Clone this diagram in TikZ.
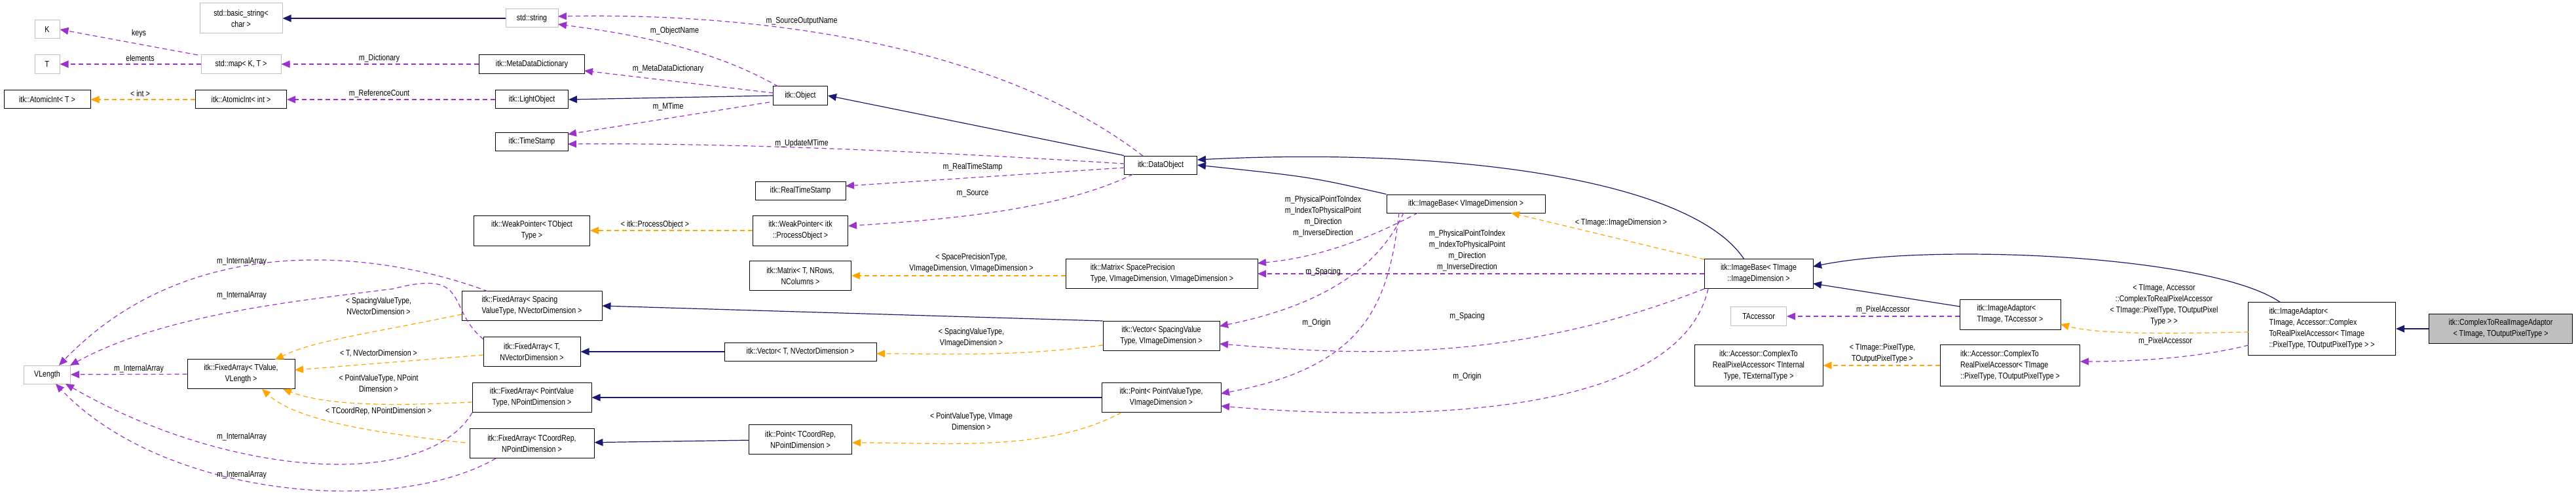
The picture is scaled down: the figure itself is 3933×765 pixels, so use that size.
\documentclass[tikz,border=0pt]{standalone}
\usepackage{fontspec}
\setmainfont{Liberation Sans}[FakeStretch=0.82]
\usetikzlibrary{arrows.meta}
\definecolor{inhcol}{HTML}{191970}
\definecolor{usecol}{HTML}{9A32CD}
\definecolor{tplcol}{HTML}{FFA500}
\definecolor{extcol}{HTML}{BFBFBF}
\begin{document}
\begin{tikzpicture}[x=1pt,y=-1pt,font=\fontsize{13}{17}\selectfont,
                    cls/.style={rectangle, draw=black, line width=1pt, inner sep=2pt, align=center},
                    ext/.style={rectangle, draw=extcol, line width=1pt, inner sep=2pt, align=center},
                    inh/.style={draw=inhcol, line width=1.2pt, -{Triangle[length=13pt,width=11pt]}},
                    use/.style={draw=usecol, line width=1.2pt, dash pattern=on 7pt off 5pt, -{Triangle[length=13pt,width=11pt]}},
                    tpl/.style={draw=tplcol, line width=1.2pt, dash pattern=on 7pt off 5pt, -{Triangle[length=13pt,width=11pt]}},
                    lbl/.style={align=center, inner sep=0pt}]
\useasboundingbox (0,0) rectangle (3933,765);
% classes
\node (K) [ext, minimum width=38, minimum height=28] at (72,45) {K};
\node (T) [ext, minimum width=38, minimum height=29] at (72,98) {T};
\node (atomT) [cls, minimum width=132, minimum height=28] at (72,152) {itk::AtomicInt< T >};
\node (bstr) [ext, minimum width=126, minimum height=46] at (368,28) {std::basic\_string<\\char >};
\node (map) [ext, minimum width=122, minimum height=29] at (368,98) {std::map< K, T >};
\node (atomI) [cls, minimum width=139, minimum height=28] at (368,152) {itk::AtomicInt< int >};
\node (str) [ext, minimum width=80, minimum height=28] at (812,28) {std::string};
\node (mdd) [cls, minimum width=161, minimum height=29] at (812,98) {itk::MetaDataDictionary};
\node (light) [cls, minimum width=111, minimum height=28] at (812,152) {itk::LightObject};
\node (ts) [cls, minimum width=111, minimum height=28] at (812,216) {itk::TimeStamp};
\node (wpT) [cls, minimum width=177, minimum height=46] at (812,352) {itk::WeakPointer< TObject\\Type >};
\node (obj) [cls, minimum width=83, minimum height=29] at (1222,146) {itk::Object};
\node (rts) [cls, minimum width=138, minimum height=28] at (1222,291) {itk::RealTimeStamp};
\node (wpPO) [cls, minimum width=145, minimum height=46] at (1222,352) {itk::WeakPointer< itk\\::ProcessObject >};
\node (dobj) [cls, minimum width=111, minimum height=28] at (1772,252) {itk::DataObject};
\node (matT) [cls, minimum width=155, minimum height=45] at (1222,421) {itk::Matrix< T, NRows,\\NColumns >};
\node (matS) [cls, minimum width=293, minimum height=45, align=left] at (1774,418) {itk::Matrix< SpacePrecision\\Type, VImageDimension, VImageDimension >};
\node (vecT) [cls, minimum width=232, minimum height=28] at (1222,537) {itk::Vector< T, NVectorDimension >};
\node (vecS) [cls, minimum width=178, minimum height=45] at (1773,513) {itk::Vector< SpacingValue\\Type, VImageDimension >};
\node (ptT) [cls, minimum width=157, minimum height=45] at (1222,671) {itk::Point< TCoordRep,\\NPointDimension >};
\node (ptS) [cls, minimum width=182, minimum height=45] at (1773,607) {itk::Point< PointValueType,\\VImageDimension >};
\node (vlen) [ext, minimum width=71, minimum height=28] at (72,572) {VLength};
\node (faT) [cls, minimum width=164, minimum height=45] at (368,571) {itk::FixedArray< TValue,\\VLength >};
\node (faS) [cls, minimum width=214, minimum height=45, align=left] at (812,467) {itk::FixedArray< Spacing\\ValueType, NVectorDimension >};
\node (faN) [cls, minimum width=148, minimum height=45] at (812,537) {itk::FixedArray< T,\\NVectorDimension >};
\node (faP) [cls, minimum width=182, minimum height=45] at (812,607) {itk::FixedArray< PointValue\\Type, NPointDimension >};
\node (faC) [cls, minimum width=190, minimum height=45] at (812,677) {itk::FixedArray< TCoordRep,\\NPointDimension >};
\node (ibV) [cls, minimum width=242, minimum height=28] at (2238,311) {itk::ImageBase< VImageDimension >};
\node (ibT) [cls, minimum width=166, minimum height=45] at (2685,418) {itk::ImageBase< TImage\\::ImageDimension >};
\node (tacc) [ext, minimum width=85, minimum height=29] at (2685,483) {TAccessor};
\node (accI) [cls, minimum width=196, minimum height=63] at (2685,558) {itk::Accessor::ComplexTo\\RealPixelAccessor< TInternal\\Type, TExternalType >};
\node (iaT) [cls, minimum width=154, minimum height=46, align=left] at (3069,480) {itk::ImageAdaptor<\\ TImage, TAccessor >};
\node (accC) [cls, minimum width=213, minimum height=63, align=left] at (3069,558) {itk::Accessor::ComplexTo\\RealPixelAccessor< TImage\\::PixelType, TOutputPixelType >};
\node (iaC) [cls, minimum width=225, minimum height=81, align=left] at (3545,502) {itk::ImageAdaptor<\\ TImage, Accessor::Complex\\ToRealPixelAccessor< TImage\\::PixelType, TOutputPixelType > >};
\node (ctr) [cls, fill=extcol, minimum width=219, minimum height=45] at (3818,502) {itk::ComplexToRealImageAdaptor\\< TImage, TOutputPixelType >};
% inheritance
\draw[inh] (str) -- (bstr);
\draw[inh] (obj.west) -- (light.east);
\draw[inh] (dobj.north west) -- (obj.east);
\draw[inh] (ibV.north west) .. controls (2000,270) .. (dobj.east);
\draw[inh] (2663,396) .. controls (2580,270) and (2200,225) .. (1828,244);
\draw[inh] (vecS.north west) -- (faS.east);
\draw[inh] (vecT) -- (faN);
\draw[inh] (ptS) -- (faP);
\draw[inh] (ptT) -- (faC);
\draw[inh] (2992,468) -- (2768,433);
\draw[inh] (3482,462) .. controls (3380,390) and (2950,370) .. (2768,407);
\draw[inh] (ctr) -- (iaC);
% members
\draw[use] (302,84) -- (K.east);
\draw[use] (map) -- (T);
\draw[use] (mdd) -- (map);
\draw[use] (light) -- (atomI);
\draw[use] (1188,132) .. controls (1080,70) and (950,50) .. (852,37);
\draw[use] (1745,238) .. controls (1500,50) and (1100,20) .. (852,25);
\draw[use] (1181,142) -- (892,108);
\draw[use] (1175,156) -- (867,205);
\draw[use] (1717,250) .. controls (1400,230) and (1100,218) .. (867,220);
\draw[use] (1717,256) -- (1291,284);
\draw[use] (1730,266) .. controls (1620,320) and (1450,335) .. (1295,345);
\draw[use] (2165,325) .. controls (2060,380) and (1990,395) .. (1920,402);
\draw[use] (ibT.west) -- (1920,418);
\draw[use] (2143,325) .. controls (2100,420) and (2000,470) .. (1862,498);
\draw[use] (2602,441) .. controls (2300,560) and (2050,540) .. (1862,525);
\draw[use] (2136,325) .. controls (2120,470) and (2080,560) .. (1864,601);
\draw[use] (2608,441) .. controls (2560,650) and (2100,640) .. (1864,620);
\draw[use] (iaT.west |- tacc) -- (tacc.east);
\draw[use] (3433,527) .. controls (3350,548) and (3250,552) .. (3176,552);
\draw[use] (faT) -- (vlen);
\draw[use] (745,445) .. controls (600,390) and (300,340) .. (90,558);
\draw[use] (738,518) .. controls (680,470) and (720,410) .. (600,441) .. controls (450,460) and (250,480) .. (107,558);
\draw[use] (721,630) .. controls (650,750) and (350,730) .. (100,586);
\draw[use] (757,700) .. controls (600,790) and (250,760) .. (85,586);
% templates
\draw[tpl] (atomI) -- (atomT);
\draw[tpl] (wpPO) -- (wpT);
\draw[tpl] (matS.west |- matT) -- (matT.east);
\draw[tpl] (1684,527) .. controls (1550,545) and (1450,540) .. (1338,540);
\draw[tpl] (1712,630) .. controls (1600,690) and (1450,676) .. (1301,676);
\draw[tpl] (705,480) .. controls (560,510) and (480,520) .. (420,549);
\draw[tpl] (738,542) -- (450,565);
\draw[tpl] (721,614) .. controls (600,620) and (500,620) .. (432,594);
\draw[tpl] (710,676) .. controls (560,660) and (450,640) .. (400,594);
\draw[tpl] (2602,396) -- (2307,325);
\draw[tpl] (3433,507) .. controls (3300,510) and (3200,510) .. (3146,495);
\draw[tpl] (accC) -- (accI);
% labels
\node (l1) [lbl] at (212,51) {keys};
\node (l2) [lbl] at (214,89) {elements};
\node (l3) [lbl] at (579,89) {m\_Dictionary};
\node (l4) [lbl] at (214,143) {< int >};
\node (l5) [lbl] at (579,143) {m\_ReferenceCount};
\node (l6) [lbl] at (1030,47) {m\_ObjectName};
\node (l7) [lbl] at (1224,32) {m\_SourceOutputName};
\node (l8) [lbl] at (1020,105) {m\_MetaDataDictionary};
\node (l9) [lbl] at (1020,163) {m\_MTime};
\node (l10) [lbl] at (1224,219) {m\_UpdateMTime};
\node (l11) [lbl] at (1485,255) {m\_RealTimeStamp};
\node (l12) [lbl] at (1485,295) {m\_Source};
\node (l13) [lbl] at (1000,343) {< itk::ProcessObject >};
\node (l14) [lbl] at (1483,402) {< SpacePrecisionType,\\VImageDimension, VImageDimension >};
\node (l15) [lbl] at (1483,516) {< SpacingValueType,\\VImageDimension >};
\node (l16) [lbl] at (1483,643) {< PointValueType, VImage\\Dimension >};
\node (l17) [lbl] at (578,467) {< SpacingValueType,\\NVectorDimension >};
\node (l18) [lbl] at (578,540) {< T, NVectorDimension >};
\node (l19) [lbl] at (578,585) {< PointValueType, NPoint\\Dimension >};
\node (l20) [lbl] at (578,628) {< TCoordRep, NPointDimension >};
\node (l21) [lbl] at (369,399) {m\_InternalArray};
\node (l22) [lbl] at (369,451) {m\_InternalArray};
\node (l23) [lbl] at (212,563) {m\_InternalArray};
\node (l24) [lbl] at (369,667) {m\_InternalArray};
\node (l25) [lbl] at (369,725) {m\_InternalArray};
\node (l26) [lbl] at (2020,331) {m\_PhysicalPointToIndex\\m\_IndexToPhysicalPoint\\m\_Direction\\m\_InverseDirection};
\node (l27) [lbl] at (2240,383) {m\_PhysicalPointToIndex\\m\_IndexToPhysicalPoint\\m\_Direction\\m\_InverseDirection};
\node (l28) [lbl] at (2020,415) {m\_Spacing};
\node (l29) [lbl] at (2240,483) {m\_Spacing};
\node (l30) [lbl] at (2010,493) {m\_Origin};
\node (l31) [lbl] at (2240,575) {m\_Origin};
\node (l32) [lbl] at (2475,340) {< TImage::ImageDimension >};
\node (l33) [lbl] at (2875,473) {m\_PixelAccessor};
\node (l34) [lbl] at (2874,540) {< TImage::PixelType,\\TOutputPixelType >};
\node (l35) [lbl] at (3304,466) {< TImage, Accessor\\::ComplexToRealPixelAccessor\\< TImage::PixelType, TOutputPixel\\Type > >};
\node (l36) [lbl] at (3306,521) {m\_PixelAccessor};
\end{tikzpicture}
\end{document}
